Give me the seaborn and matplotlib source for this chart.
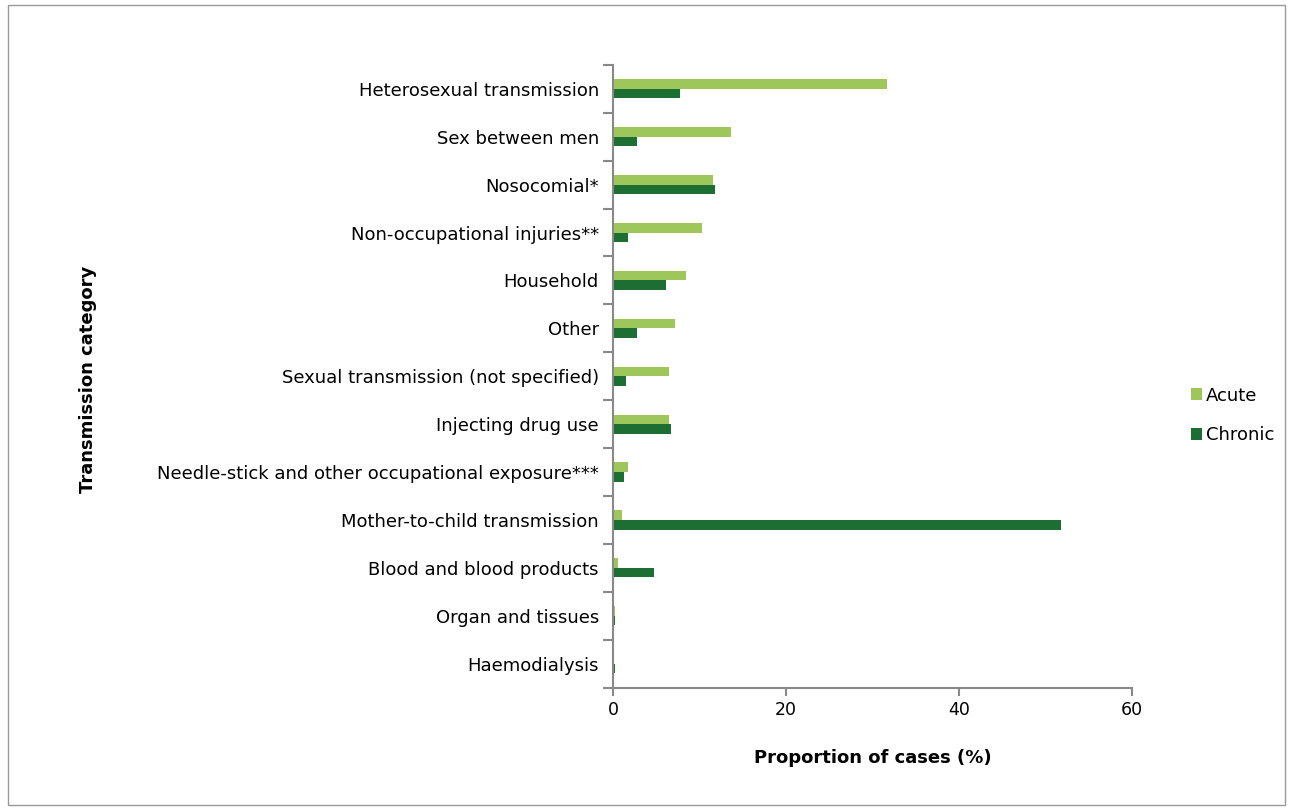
import pandas as pd
import seaborn as sns
from matplotlib import pyplot as plt
from matplotlib.patches import Rectangle

categories = [
    "Heterosexual transmission",
    "Sex between men",
    "Nosocomial*",
    "Non-occupational injuries**",
    "Household",
    "Other",
    "Sexual transmission (not specified)",
    "Injecting drug use",
    "Needle-stick and other occupational exposure***",
    "Mother-to-child transmission",
    "Blood and blood products",
    "Organ and tissues",
    "Haemodialysis",
]
acute = [31.7, 13.7, 11.6, 10.3, 8.4, 7.2, 6.5, 6.45, 1.7, 1.0, 0.6, 0.3, 0.0]
chronic = [7.7, 2.8, 11.8, 1.8, 6.1, 2.8, 1.5, 6.7, 1.25, 51.8, 4.7, 0.25, 0.3]
series = ["Acute", "Chronic"]
colors = ["#9DC75B", "#1C6E32"]

df = pd.DataFrame({
    "category": categories * 2,
    "value": acute + chronic,
    "type": [series[0]] * len(categories) + [series[1]] * len(categories),
})

sns.set_style("white")
plt.rcParams["font.family"] = ["DejaVu Sans"]
plt.rcParams["text.color"] = "black"
plt.rcParams["xtick.color"] = "#888888"
plt.rcParams["ytick.color"] = "#888888"
plt.rcParams["xtick.labelcolor"] = "black"
plt.rcParams["ytick.labelcolor"] = "black"

fig = plt.figure(figsize=(12.93, 8.10), dpi=100)
ax = fig.add_axes([0.474, 0.151, 0.4015, 0.769])

sns.barplot(data=df, y="category", x="value", hue="type", order=categories,
            hue_order=series, palette=colors, width=0.4, orient="h", ax=ax,
            edgecolor="none", saturation=1)

ax.set_xlim(0, 60)
ax.set_ylim(len(categories) - 0.5, -0.5)
ax.set_xticks([0, 20, 40, 60])
ax.tick_params(axis="x", labelsize=12.5, length=6, width=1.5, bottom=True, direction="out")
ax.tick_params(axis="y", which="major", labelsize=13, length=0, pad=10)
ax.set_yticks([i - 0.5 for i in range(len(categories) + 1)], minor=True)
ax.tick_params(axis="y", which="minor", length=7, width=1.5, left=True, direction="out")

for s in ["top", "right"]:
    ax.spines[s].set_visible(False)
for s in ["left", "bottom"]:
    ax.spines[s].set_color("#888888")
    ax.spines[s].set_linewidth(1.5)

ax.set_xlabel("Proportion of cases (%)", fontsize=13, fontweight="bold", labelpad=22,
              color="black")
ax.set_ylabel("")
fig.text(0.068, 0.532, "Transmission category", rotation=90, fontsize=13,
         fontweight="bold", ha="center", va="center", color="black")

ax.legend(loc="center left", bbox_to_anchor=(1.113, 0.437), frameon=False,
          fontsize=13, handlelength=0.65, handleheight=0.65, handletextpad=0.2,
          labelspacing=1.2, borderpad=0, borderaxespad=0)

fig.patches.append(Rectangle((0.006, 0.006), 0.988, 0.988, transform=fig.transFigure,
                             fill=False, edgecolor="#999999", linewidth=1))

fig.savefig("out.png", dpi=100)
